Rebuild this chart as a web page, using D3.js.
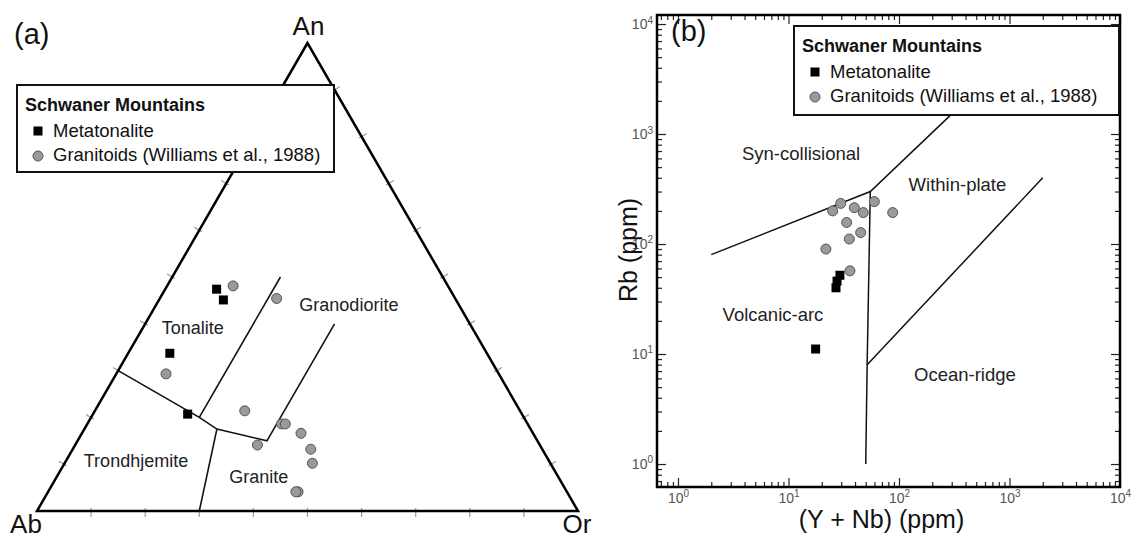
<!DOCTYPE html>
<html>
<head>
<meta charset="utf-8">
<script src="https://cdn.jsdelivr.net/npm/d3@7"></script>
<style>
  body { margin: 0; background: #fff; }
  svg { font-family: "Liberation Sans", Arial, sans-serif; }
</style>
</head>
<body>
<div id="chart"></div>
<script>
// ---------------- data (a) : An - Ab - Or, in % [An, Ab, Or]
var metatonaliteTernary = [[47.4, 43.1, 9.5], [45.1, 43.0, 11.9], [33.7, 58.6, 7.7], [20.7, 61.8, 17.5]]
var granitoidsTernary = [[48.1, 39.7, 12.2], [45.4, 33.0, 21.6], [29.3, 61.5, 9.2], [21.4, 50.9, 27.7],
  [18.6, 45.5, 35.9], [18.6, 44.8, 36.6], [16.6, 42.9, 40.5], [14.1, 52.2, 33.7],
  [13.2, 42.8, 44.0], [10.2, 44.0, 45.8], [4.1, 49.7, 46.2], [4.1, 50.1, 45.8]]
// field boundaries (Barker, 1979)
var ternaryFieldLines = [
  [[30, 70, 0], [20, 60, 20], [17.5, 58, 24.5], [15, 50, 35], [40, 25, 35]],
  [[20, 60, 20], [50, 30, 20]],
  [[17.5, 58, 24.5], [0, 70, 30]]
]
var ternaryFieldNames = ["Tonalite", "Granodiorite", "Trondhjemite", "Granite"]
var ternaryFieldAt = [[37.8, 52.3, 9.9], [42.7, 21.0, 36.3], [9.4, 77.0, 13.6], [6.0, 56.0, 38.0]]
var ternaryApexNames = ["An", "Ab", "Or"]

// ---------------- data (b) : Rb vs (Y + Nb), ppm
var granitoidsYNb = [25.1, 29.7, 39.4, 47.5, 59.8, 87.7, 33.6, 45, 35.5, 21.8, 36]
var granitoidsRb = [200, 234, 214, 193, 243, 193, 157, 127, 111, 90, 57]
var metatonaliteYNb = [29.2, 27.5, 26.9, 17.6]
var metatonaliteRb = [52, 46, 40, 11.1]
// tectonic discrimination lines (Pearce et al., 1984)
var pearceLines = [
  [[2, 80], [55, 300], [400, 2000]],
  [[55, 300], [51.5, 8], [50, 1]],
  [[51.5, 8], [2000, 400]]
]
var pearceFieldNames = ["Syn-collisional", "Within-plate", "Volcanic-arc", "Ocean-ridge"]
var pearceFieldAt = [[13, 580], [338, 303], [7.24, 20], [395, 5.68]]
var majorTicks = [1, 10, 100, 1000, 10000]

var legendTitle = "Schwaner Mountains"
var legendItems = ["Metatonalite", "Granitoids (Williams et al., 1988)"]

var svg = d3.select("#chart")
  .append("svg")
  .attr("width", 1133)
  .attr("height", 540)

var labelColor = "#222"

function square(g, cx, cy) {
  g.append("rect")
    .attr("x", cx - 4.5).attr("y", cy - 4.5)
    .attr("width", 9).attr("height", 9)
    .attr("fill", "#000")
}
function dot(g, cx, cy) {
  g.append("circle")
    .attr("cx", cx).attr("cy", cy).attr("r", 5)
    .attr("fill", "#9a9a9a")
    .attr("stroke", "#555")
    .attr("stroke-width", 1)
}

function drawLegend(lx, ly, w, h) {
  var g = svg.append("g").attr("transform", "translate(" + lx + "," + ly + ")")
  g.append("rect")
    .attr("width", w).attr("height", h)
    .attr("fill", "#fff")
    .attr("stroke", "#111")
    .attr("stroke-width", 2)
  g.append("text")
    .attr("x", 8).attr("y", 26)
    .attr("font-size", 18).attr("font-weight", "bold")
    .attr("fill", "#111")
    .text(legendTitle)
  square(g, 21, 46)
  dot(g, 21, 71)
  legendItems.forEach(function(t, i) {
    g.append("text")
      .attr("x", 36).attr("y", 52 + i * 24)
      .attr("font-size", 18.5)
      .attr("fill", "#111")
      .text(t)
  })
}

/* ---------------------------- (a) ternary ---------------------------- */
var tx = d3.scaleLinear().domain([0, 1]).range([37, 578])
var ty = d3.scaleLinear().domain([0, 1]).range([511, 43])

function tern(p) {
  var s = p[0] + p[1] + p[2]
  var an = p[0] / s, or = p[2] / s
  return [tx(or + an / 2), ty(an)]
}

var ga = svg.append("g")

// tick marks every 10 %
var corners = [tern([100, 0, 0]), tern([0, 100, 0]), tern([0, 0, 100])]
var edges = [[1, 2], [2, 0], [0, 1]]
var centre = [(corners[0][0] + corners[1][0] + corners[2][0]) / 3, (corners[0][1] + corners[1][1] + corners[2][1]) / 3]
edges.forEach(function(e) {
  var a = corners[e[0]], b = corners[e[1]]
  var dx = b[0] - a[0], dy = b[1] - a[1], len = Math.hypot(dx, dy)
  var nx = dy / len, ny = -dx / len
  // outward normal: away from triangle centre
  var mx = (a[0] + b[0]) / 2, my = (a[1] + b[1]) / 2
  if ((mx - centre[0]) * nx + (my - centre[1]) * ny < 0) { nx = -nx; ny = -ny }
  d3.range(1, 10).forEach(function(k) {
    var px = a[0] + dx * k / 10, py = a[1] + dy * k / 10
    ga.append("line")
      .attr("x1", px - nx * 3).attr("y1", py - ny * 3)
      .attr("x2", px + nx * 6).attr("y2", py + ny * 6)
      .attr("stroke", "#999").attr("stroke-width", 1.2)
  })
})

var ternLine = d3.line().x(function(d) { return tern(d)[0] }).y(function(d) { return tern(d)[1] })

ga.selectAll(".field")
  .data(ternaryFieldLines)
  .enter()
  .append("path")
  .attr("d", ternLine)
  .attr("fill", "none")
  .attr("stroke", "#111")
  .attr("stroke-width", 1.6)

ga.append("path")
  .attr("d", "M" + corners.join("L") + "Z")
  .attr("fill", "none")
  .attr("stroke", "#000")
  .attr("stroke-width", 2.5)
  .attr("stroke-linejoin", "miter")

ternaryFieldNames.forEach(function(n, i) {
  var p = tern(ternaryFieldAt[i])
  ga.append("text")
    .attr("x", p[0]).attr("y", p[1])
    .attr("text-anchor", "middle")
    .attr("font-size", 18)
    .attr("fill", labelColor)
    .text(n)
})

// apex labels
ga.append("text").attr("x", corners[0][0] + 1).attr("y", 35).attr("text-anchor", "middle")
  .attr("font-size", 26).attr("fill", "#111").text(ternaryApexNames[0])
ga.append("text").attr("x", 26).attr("y", 533).attr("text-anchor", "middle")
  .attr("font-size", 26).attr("fill", "#111").text(ternaryApexNames[1])
ga.append("text").attr("x", 577).attr("y", 533).attr("text-anchor", "middle")
  .attr("font-size", 26).attr("fill", "#111").text(ternaryApexNames[2])

granitoidsTernary.forEach(function(d) { var p = tern(d); dot(ga, p[0], p[1]) })
metatonaliteTernary.forEach(function(d) { var p = tern(d); square(ga, p[0], p[1]) })

svg.append("text").attr("x", 14).attr("y", 44)
  .attr("font-size", 29).attr("fill", "#111").text("(a)")

drawLegend(17, 85, 317, 87)

/* ---------------------------- (b) Rb vs Y+Nb ---------------------------- */
var plotLeft = 657, plotRight = 1120, plotTop = 15, plotBottom = 487

var x = d3.scaleLog()
  .domain([Math.pow(10, -0.19), 1e4])
  .range([plotLeft, plotRight])
var y = d3.scaleLog()
  .domain([Math.pow(10, -0.209), Math.pow(10, 4.082)])
  .range([plotBottom, plotTop])

function minorsOf(scale) {
  var dom = scale.domain(), out = []
  for (var e = -1; e <= 4; e++) {
    for (var k = 2; k <= 9; k++) {
      var v = k * Math.pow(10, e)
      if (v > dom[0] && v < dom[1]) out.push(v)
    }
  }
  return out
}

var gb = svg.append("g")

function addAxis(axis, tr, labels) {
  var g = gb.append("g").attr("transform", tr).call(axis)
  g.select(".domain").remove()
  g.selectAll(".tick line").attr("stroke", "#222").attr("stroke-width", 1.2)
  if (labels) {
    g.selectAll(".tick text")
      .attr("fill", "#555")
      .attr("font-size", 14)
      .attr("font-family", "'Liberation Sans', Arial, sans-serif")
      .text(null)
      .each(function(d) {
        var t = d3.select(this)
        t.append("tspan").text("10")
        t.append("tspan").attr("dy", "-0.55em").attr("font-size", 10).text(Math.round(Math.log10(d)))
      })
  }
  return g
}

// major + minor ticks on all four sides, pointing inward
addAxis(d3.axisBottom(x).tickValues(majorTicks).tickSize(-9).tickPadding(6), "translate(0," + plotBottom + ")", true)
addAxis(d3.axisBottom(x).tickValues(minorsOf(x)).tickSize(-5).tickFormat(""), "translate(0," + plotBottom + ")", false)
addAxis(d3.axisTop(x).tickValues(majorTicks).tickSize(-9).tickFormat(""), "translate(0," + plotTop + ")", false)
addAxis(d3.axisTop(x).tickValues(minorsOf(x)).tickSize(-5).tickFormat(""), "translate(0," + plotTop + ")", false)
addAxis(d3.axisLeft(y).tickValues(majorTicks).tickSize(-9).tickPadding(4), "translate(" + plotLeft + ",0)", true)
addAxis(d3.axisLeft(y).tickValues(minorsOf(y)).tickSize(-5).tickFormat(""), "translate(" + plotLeft + ",0)", false)
addAxis(d3.axisRight(y).tickValues(majorTicks).tickSize(-9).tickFormat(""), "translate(" + plotRight + ",0)", false)
addAxis(d3.axisRight(y).tickValues(minorsOf(y)).tickSize(-5).tickFormat(""), "translate(" + plotRight + ",0)", false)

var line = d3.line().x(function(d) { return x(d[0]) }).y(function(d) { return y(d[1]) })

gb.selectAll(".pearce")
  .data(pearceLines)
  .enter()
  .append("path")
  .attr("d", line)
  .attr("fill", "none")
  .attr("stroke", "#111")
  .attr("stroke-width", 1.5)

pearceFieldNames.forEach(function(n, i) {
  gb.append("text")
    .attr("x", x(pearceFieldAt[i][0])).attr("y", y(pearceFieldAt[i][1]))
    .attr("text-anchor", "middle")
    .attr("font-size", 18.5)
    .attr("fill", labelColor)
    .text(n)
})

granitoidsYNb.forEach(function(v, i) { dot(gb, x(v), y(granitoidsRb[i])) })
metatonaliteYNb.forEach(function(v, i) { square(gb, x(v), y(metatonaliteRb[i])) })

gb.append("rect")
  .attr("x", plotLeft).attr("y", plotTop)
  .attr("width", plotRight - plotLeft).attr("height", plotBottom - plotTop)
  .attr("fill", "none")
  .attr("stroke", "#000")
  .attr("stroke-width", 2.5)

// axis titles
gb.append("text")
  .attr("x", (plotLeft + plotRight) / 2 - 7).attr("y", 528)
  .attr("text-anchor", "middle")
  .attr("font-size", 25).attr("fill", "#111")
  .text("(Y + Nb) (ppm)")
gb.append("text")
  .attr("transform", "translate(637,250) rotate(-90)")
  .attr("text-anchor", "middle")
  .attr("font-size", 25).attr("fill", "#111")
  .text("Rb (ppm)")

svg.append("text").attr("x", 671).attr("y", 41)
  .attr("font-size", 29).attr("fill", "#111").text("(b)")

drawLegend(794, 26, 325, 89)
</script>
</body>
</html>
